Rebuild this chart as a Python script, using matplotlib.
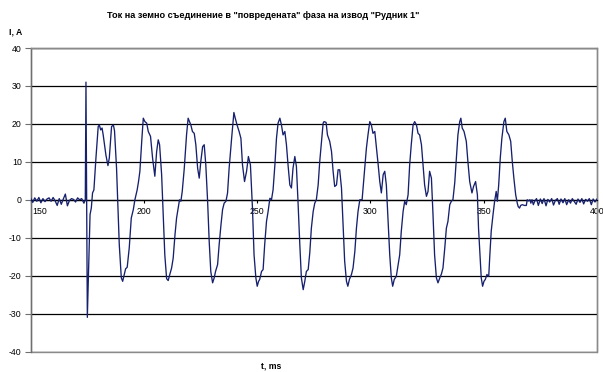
import numpy as np
import matplotlib
matplotlib.use("Agg")
import matplotlib.pyplot as plt
from matplotlib.patches import Rectangle
from matplotlib.transforms import ScaledTranslation

plt.rcParams["font.family"] = ["Liberation Sans", "DejaVu Sans"]
plt.rcParams["axes.unicode_minus"] = False

TITLE = 'Ток на земно съединение в "повредената" фаза на извод "Рудник 1"'
Y_LABEL = "I, A"
X_LABEL = "t, ms"

x_ticks = [150, 200, 250, 300, 350, 400]
y_ticks = [-40, -30, -20, -10, 0, 10, 20, 30, 40]

# Pre-fault noise, ms / A
t_pre = [150.0, 150.9, 151.8, 152.7, 153.6, 154.5, 155.4, 156.3, 157.2, 158.1,
         159.0, 159.9, 160.8, 161.7, 162.6, 163.5, 164.4, 165.3, 166.2, 167.1,
         168.0, 168.9, 169.8, 170.7, 171.6, 172.5, 173.5]
i_pre = [0.4, -0.7, 0.5, -0.4, 0.6, -0.8, 0.3, -0.5, 0.2, 0.5,
         -0.4, 0.6, -0.3, -1.5, 0.3, -1.2, 0.2, 1.5, -1.6, -0.2,
         0.3, 0.1, -0.6, 0.5, 0.0, 0.3, -0.9]

# Earth-fault current, ms / A
t_fault = [174.1, 174.4, 175.0, 176.2, 176.75, 177.3, 177.9, 178.8, 179.8, 180.3,
           180.9, 181.5, 182.0, 183.2, 184.1, 184.7, 185.7, 186.5, 187.0, 187.9,
           189.1, 190.0, 190.6, 191.3, 191.9, 192.6, 193.5, 194.4, 195.3, 196.0,
           197.0, 197.6, 198.2, 199.1, 199.7, 200.4, 201.2, 201.9, 202.9, 203.8,
           204.8, 205.6, 206.3, 206.9, 207.8, 208.5, 209.2, 210.0, 210.7, 211.4,
           212.2, 212.9, 213.7, 214.4, 215.1, 215.7, 216.3, 216.9, 217.8, 218.8,
           219.5, 220.1, 220.7, 221.4, 222.2, 222.9, 223.7, 224.4, 225.1, 225.9,
           226.6, 227.3, 228.1, 228.8, 229.5, 230.3, 231.0, 231.6, 232.5, 233.2,
           234.0, 234.7, 235.4, 236.2, 236.9, 237.6, 238.7,
           239.7, 240.3, 241.1, 242.0, 242.8, 243.5, 244.4, 245.3, 246.1, 247.0,
           247.9, 248.6, 249.4, 250.0, 250.6, 251.1, 251.9, 252.6, 253.3, 254.1,
           254.8, 255.6, 256.3, 257.0, 257.8, 258.5, 259.2, 260.0, 260.7, 261.4,
           262.2, 262.9, 263.6, 264.4, 265.1, 265.8, 266.6, 267.3, 268.0, 268.8,
           269.5, 270.3, 271.0, 271.7, 272.5,
           273.2, 273.9, 274.7, 275.4, 276.1, 276.9, 277.6, 278.4, 279.1, 279.5,
           280.4, 281.0, 282.0, 282.8, 283.5, 284.2, 285.0, 285.7, 286.4, 287.2,
           287.9, 288.6, 289.4, 290.0, 290.7, 291.6, 292.3, 293.1, 293.8, 294.5,
           295.3, 296.3, 297.2, 298.2, 298.9, 299.7, 300.4, 301.1, 301.9, 302.6,
           303.4, 304.1, 304.8, 305.6, 306.3,
           307.0, 307.8, 308.5, 309.2, 309.8, 310.5, 311.4, 312.2, 312.9, 313.6,
           314.4, 315.1, 315.8, 316.6, 317.3, 318.0, 318.8, 319.5, 320.3, 321.0,
           321.7, 322.5, 323.2, 323.9, 324.7, 325.4, 326.1, 326.9, 327.6, 328.3,
           329.1, 329.8, 330.6, 331.3, 332.0, 332.8, 333.5, 334.2, 335.0, 335.7,
           336.4, 337.2, 337.9,
           338.6, 339.4, 339.9, 340.5, 341.3, 342.3, 343.0, 343.8, 344.8, 345.5,
           346.4, 347.2, 347.7, 348.5, 348.9, 349.5, 350.1, 350.7, 351.4, 352.2,
           352.7, 353.3, 354.1, 354.8, 355.5, 356.0, 356.6, 357.3, 358.0, 358.9,
           359.5, 360.2, 361.1, 361.9, 362.6, 363.3, 364.1, 364.8, 365.2, 365.8,
           366.3, 367.0, 368.0, 368.8, 369.2, 369.8, 370.4, 370.8, 371.3, 371.9]
i_fault = [0.0, 31.0, -31.0, -3.9, -2.2, 1.8, 2.6, 11.0, 19.3, 19.7,
           18.4, 18.9, 17.1, 11.8, 9.0, 11.0, 19.3, 19.7, 18.2, 8.3,
           -11.8, -20.6, -21.5, -19.7, -18.2, -17.8, -12.7, -4.8, -2.6, 0.0,
           2.6, 4.8, 7.5, 16.2, 21.5, 20.6, 20.2, 18.0, 16.7, 11.0,
           6.2, 12.7, 15.8, 14.5, 6.6, -3.9, -14.5, -20.8, -21.3, -19.7,
           -18.0, -15.4, -9.2, -4.8, -2.2, 0.0, -0.4, 2.2, 8.3, 17.1,
           21.5, 20.6, 19.7, 18.0, 17.5, 14.5, 8.3, 5.7, 10.1, 14.0,
           14.5, 9.2, -0.4, -11.0, -18.9, -21.9, -20.6, -18.9, -17.1, -11.8,
           -6.6, -2.6, -0.9, -0.4, 1.8, 8.3, 16.2,
           23.0, 21.5, 19.7, 18.0, 16.2, 9.2, 4.8, 7.5, 11.4, 9.2,
           -2.2, -14.5, -20.6, -22.8, -21.5, -21.0, -18.9, -18.4, -11.8, -5.7,
           -3.1, 0.4, 0.0, 2.6, 9.2, 16.2, 20.2, 21.5, 19.7, 17.1,
           18.0, 14.5, 9.2, 3.9, 3.1, 8.3, 11.4, 8.8, -0.4, -11.8,
           -20.6, -23.7, -21.5, -18.9, -18.4,
           -14.0, -7.5, -3.1, -0.9, 0.0, 3.9, 10.1, 15.4, 20.2, 20.6,
           20.4, 17.1, 15.4, 12.7, 7.5, 3.5, 3.9, 7.9, 7.9, 3.1,
           -6.6, -16.2, -21.5, -22.8, -21.0, -19.7, -18.0, -13.6, -7.5, -3.1,
           0.0, 0.0, 6.6, 13.6, 17.1, 20.6, 19.7, 17.5, 18.0, 14.0,
           9.2, 4.8, 1.8, 6.6, 7.5,
           3.9, -5.7, -14.5, -20.6, -22.8, -21.0, -20.2, -17.1, -14.5, -8.3,
           -3.1, -0.4, -1.3, 1.3, 9.2, 14.5, 19.7, 20.6, 19.7, 17.5,
           17.1, 14.5, 9.2, 3.9, 0.9, 2.2, 7.5, 5.7, -3.9, -14.5,
           -20.6, -21.9, -20.6, -19.6, -18.0, -12.7, -7.5, -5.7, -1.3, -0.4,
           0.0, 4.5, 11.0,
           17.1, 20.6, 21.5, 18.9, 18.0, 15.4, 10.1, 4.8, 1.8, 3.5,
           4.8, 1.3, -7.5, -16.2, -20.6, -22.8, -21.5, -21.0, -19.7, -20.2,
           -14.5, -8.3, -3.9, -0.4, 2.2, -0.4, 3.9, 11.0, 16.2, 20.6,
           21.5, 18.0, 17.1, 15.4, 10.1, 5.7, 1.3, -0.9, -1.8, -2.2,
           -1.5, -1.3, -1.5, -1.5, 0.0, -0.3, 0.0, -0.9, 0.0, -1.3]

# Post-fault noise, ms / A
t_post = [372.5, 373.3, 374.1, 375.0, 375.8, 376.6, 377.5, 378.3, 379.1, 380.0,
          380.8, 381.6, 382.5, 383.3, 384.1, 385.0, 385.8, 386.6, 387.5, 388.3,
          389.1, 390.0, 390.8, 391.6, 392.5, 393.3, 394.1, 395.0, 395.8, 396.6,
          397.5, 398.3, 399.1, 400.0]
i_post = [-0.4, 0.3, -1.5, 0.2, -1.0, 0.3, -1.6, 0.1, -0.6, 0.3,
          -1.4, -0.2, 0.3, -1.2, 0.2, -0.8, 0.3, -1.3, 0.0, -0.9,
          0.3, -0.5, -1.2, 0.2, -0.7, 0.3, -1.1, 0.1, -0.4, 0.3,
          -1.3, 0.2, -0.6, 0.2]

t_ms = np.concatenate([t_pre, t_fault, t_post])
i_a = np.concatenate([i_pre, i_fault, i_post])

W, H = 603, 372
fig = plt.figure(figsize=(W / 100, H / 100), dpi=100)
x0, x1, y0, y1 = 30.7, 597.0, 48.0, 351.5
ax = fig.add_axes([x0 / W, 1 - y1 / H, (x1 - x0) / W, (y1 - y0) / H])

ax.plot(t_ms, i_a, color="#16206e", lw=0.95, zorder=3)

ax.set_xlim(150, 400)
ax.set_ylim(-40, 40)
ax.set_yticks(y_ticks)
ax.set_xticks(x_ticks)
ax.yaxis.grid(True, color="black", lw=0.9, zorder=1)
ax.set_axisbelow(True)

# plot-area frame
for s in ("top", "right", "left"):
    ax.spines[s].set_color("#8a8a8a")
    ax.spines[s].set_linewidth(1.0)
ax.spines["left"].set_color("#6f6f6f")
ax.spines["bottom"].set_position(("data", 0))
ax.spines["bottom"].set_color("black")
ax.spines["bottom"].set_linewidth(0.9)
ax.add_patch(Rectangle((0, 0), 1, 1, transform=ax.transAxes, fill=False,
                       edgecolor="#8a8a8a", lw=1.0, clip_on=False, zorder=0))

ax.tick_params(axis="x", direction="out", length=2.5, width=0.8,
               labelsize=6.3, pad=3, color="black")
ax.tick_params(axis="y", direction="out", length=4, width=0.8,
               labelsize=6.3, pad=2.5, color="#6f6f6f")

first = ax.get_xticklabels()[0]
first.set_horizontalalignment("left")
first.set_transform(first.get_transform() +
                    ScaledTranslation(1.5 / 100, 0, fig.dpi_scale_trans))

fig.text(263 / W, 1 - 15 / H, TITLE, ha="center", va="center",
         fontsize=6.6, fontweight="bold")
fig.text(9 / W, 1 - 32 / H, Y_LABEL, ha="left", va="center",
         fontsize=6.2, fontweight="bold")
fig.text(271 / W, 1 - 366 / H, X_LABEL, ha="center", va="center",
         fontsize=6.2, fontweight="bold")

fig.savefig("out.png", dpi=100)
